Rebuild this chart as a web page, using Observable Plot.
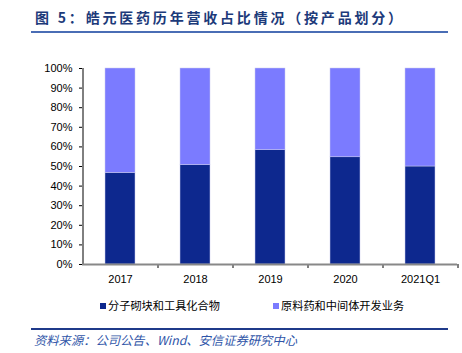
<!DOCTYPE html>
<html><head><meta charset="utf-8">
<script src="https://cdn.jsdelivr.net/npm/d3@7"></script>
<script src="https://cdn.jsdelivr.net/npm/@observablehq/plot@0.6"></script>
<style>
body{margin:0;background:#fff;width:462px;height:353px;position:relative;overflow:hidden;font-family:"Liberation Sans",Arial,sans-serif;}
#title{position:absolute;left:35px;top:7px;font:bold 14px "Noto Sans CJK SC",sans-serif;letter-spacing:2.8px;color:#1c3a7a;white-space:nowrap;}
#tline{position:absolute;left:31px;top:31px;width:417px;height:2px;background:#4a6db5;}
#chart{position:absolute;left:0;top:40px;}
#legend{position:absolute;top:297px;left:0;width:462px;font:11.2px "Noto Sans CJK SC",sans-serif;color:#000;}
.li{position:absolute;white-space:nowrap;}
.sw{display:inline-block;width:6px;height:6px;margin-right:2px;vertical-align:1px;}
#fline{position:absolute;left:31px;top:328px;width:417px;height:1.5px;background:#1f3a8a;}
#foot{position:absolute;left:33px;top:331px;font:12.3px "Noto Sans CJK SC",sans-serif;color:#2f55a8;white-space:nowrap;transform:skewX(-14deg);transform-origin:0 100%;}
</style></head>
<body>
<div id="title">图 5：皓元医药历年营收占比情况（按产品划分）</div>
<div id="tline"></div>
<div id="chart"></div>
<div id="legend"></div>
<div id="fline"></div>
<div id="foot">资料来源：公司公告、Wind、安信证券研究中心</div>
<script>
const categories = ["2017", "2018", "2019", "2020", "2021Q1"];
const seriesNames = ["分子砌块和工具化合物", "原料药和中间体开发业务"];
const molecular = [46.7, 50.7, 58.3, 54.7, 50.0];
const api = [53.3, 49.3, 41.7, 45.3, 50.0];
const yTicks = [0, 10, 20, 30, 40, 50, 60, 70, 80, 90, 100];
const colors = ["#0d288e", "#7b7bff"];

const rows = [];
categories.forEach((c, i) => {
  rows.push({year: c, series: seriesNames[0], value: molecular[i]});
  rows.push({year: c, series: seriesNames[1], value: api[i]});
});

const W = 462, H = 255, mL = 82, mR = 5;
const step = (W - mL - mR) / categories.length;

const plot = Plot.plot({
  width: W, height: H,
  marginLeft: mL, marginRight: mR, marginTop: 28, marginBottom: 31,
  style: {fontFamily: "'Liberation Sans', Arial, sans-serif", fontSize: "11px", color: "#000", background: "transparent"},
  x: {domain: categories, paddingInner: 0.6, paddingOuter: 0.3, label: null, tickSize: 0, tickPadding: 11},
  y: {domain: [0, 100], ticks: yTicks, tickFormat: d => d + "%", label: null, tickSize: 3, tickPadding: 7},
  color: {domain: seriesNames, range: colors},
  marks: [
    Plot.barY(rows, {x: "year", y: "value", fill: "series", stroke: "#c9c9ee", strokeWidth: 0.5}),
    Plot.ruleX([categories[0]], {dx: -step / 2, y1: 0, y2: 100, stroke: "#000", strokeWidth: 1}),
    Plot.ruleX(categories, {dx: step / 2, y1: 0, y2: 0, insetBottom: -4, stroke: "#000", strokeWidth: 1}),
    Plot.ruleY([0], {stroke: "#888", strokeWidth: 2})
  ]
});
document.getElementById("chart").appendChild(plot);

const legend = document.getElementById("legend");
const legendX = [100, 273];
seriesNames.forEach((s, i) => {
  const d = document.createElement("div");
  d.className = "li";
  d.style.left = legendX[i] + "px";
  d.innerHTML = `<span class="sw" style="background:${colors[i]}"></span>${s}`;
  legend.appendChild(d);
});
</script>
</body></html>
